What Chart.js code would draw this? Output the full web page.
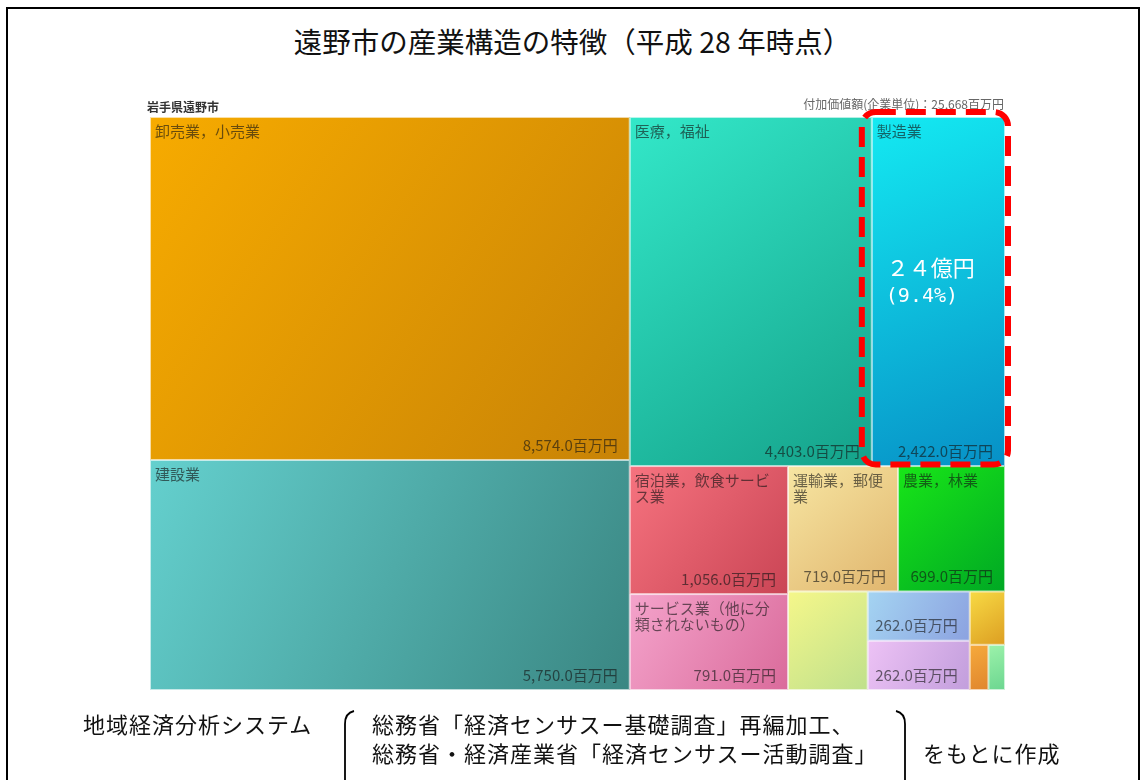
<!DOCTYPE html>
<html lang="ja">
<head>
<meta charset="utf-8">
<title>遠野市の産業構造の特徴</title>
<script src="https://cdn.jsdelivr.net/npm/chart.js@4.4.1/dist/chart.umd.min.js"></script>
<style>
  html, body { margin: 0; padding: 0; background: #fff; }
  body { width: 1145px; height: 780px; position: relative; overflow: hidden;
         font-family: "Noto Sans CJK JP", sans-serif; color: #111; }
  #frame { position: absolute; left: 6px; top: 7px; width: 1134px; height: 820px;
           border: 2px solid #000; box-sizing: border-box; }
  #chart { position: absolute; left: 0; top: 0; }
  h1 { position: absolute; left: 0; top: 22px; width: 1145px; margin: 0; text-align: center;
       font-size: 28.5px; font-weight: normal; line-height: 38px; }
  .note { position: absolute; font-size: 22px; line-height: 29px; white-space: nowrap; letter-spacing: 1px; }
  #brackets { position: absolute; left: 0; top: 0; }
</style>
</head>
<body>
<div id="frame"></div>
<h1>遠野市の産業構造の特徴（平成 28 年時点）</h1>
<canvas id="chart" width="1145" height="780"></canvas>
<svg id="brackets" width="1145" height="780">
  <path d="M354 711 Q345 713 345 724 L345 790" fill="none" stroke="#000" stroke-width="1.8"/>
  <path d="M896 711 Q905 713 905 724 L905 790" fill="none" stroke="#000" stroke-width="1.8"/>
</svg>
<div class="note" style="left:83px; top:709px;">地域経済分析システム</div>
<div class="note" style="left:372px; top:709px;">総務省「経済センサスー基礎調査」再編加工、<br>総務省・経済産業省「経済センサスー活動調査」</div>
<div class="note" style="left:923px; top:738px;">をもとに作成</div>

<script>
// 付加価値額（企業単位, 百万円）
const regionName = '岩手県遠野市';
const totalValue = 25668;
const categories = [
  '卸売業，小売業', '建設業', '医療，福祉', '製造業',
  '宿泊業，飲食サービス業', 'サービス業（他に分類されないもの）',
  '運輸業，郵便業', '農業，林業',
  '生活関連サービス業，娯楽業', '不動産業，物品賃貸業', '学術研究，専門・技術サービス業',
  '教育，学習支援業', '情報通信業', '鉱業，採石業，砂利採取業'
];
const values = [8574, 5750, 4403, 2422, 1056, 791, 719, 699, 409, 262, 262, 98, 44, 39];
const highlight = '製造業';

// colours: light (top-left) -> dark (bottom-right)
const palette = [
  ['#f7ab00', '#c88306'], ['#64d0ce', '#3a8682'], ['#33e8c9', '#15a28a'], ['#14eaf2', '#0790c6'],
  ['#f6737f', '#ca4555'], ['#f4a3cb', '#da6b9b'],
  ['#f7e6a2', '#e0b56e'], ['#18e618', '#00a824'],
  ['#f5f78a', '#bfe08c'], ['#a4d4f2', '#8ca2e0'], ['#edc2f5', '#c29edc'],
  ['#f8da44', '#dc9e22'], ['#f6aa3c', '#e0862e'], ['#9cf2aa', '#6cd690']
];

// squarified layout (golden ratio), rows in data order
function squarify(vals, x0, y0, x1, y1, aspect) {
  const out = [];
  const ratio = (1 + Math.sqrt(5)) / 2;
  let value = vals.reduce((a, b) => a + b, 0);
  let i0 = 0, i1 = 0;
  while (i0 < vals.length) {
    const dx = (x1 - x0) * aspect, dy = y1 - y0;
    let sum = vals[i1++];
    let minV = sum, maxV = sum;
    const alpha = Math.max(dy / dx, dx / dy) / (value * ratio);
    let beta = sum * sum * alpha;
    let minRatio = Math.max(maxV / beta, beta / minV);
    for (; i1 < vals.length; ++i1) {
      const v = vals[i1];
      sum += v;
      if (v < minV) minV = v;
      if (v > maxV) maxV = v;
      beta = sum * sum * alpha;
      const r = Math.max(maxV / beta, beta / minV);
      if (r > minRatio) { sum -= v; break; }
      minRatio = r;
    }
    if (dx < dy) {
      const yb = y0 + (y1 - y0) * sum / value;
      let x = x0;
      for (let i = i0; i < i1; i++) {
        const w = (x1 - x0) * vals[i] / sum;
        out[i] = { x0: x, x1: x + w, y0: y0, y1: yb };
        x += w;
      }
      y0 = yb;
    } else {
      const xb = x0 + (x1 - x0) * sum / value;
      let y = y0;
      for (let i = i0; i < i1; i++) {
        const h = (y1 - y0) * vals[i] / sum;
        out[i] = { x0: x0, x1: xb, y0: y, y1: y + h };
        y += h;
      }
      x0 = xb;
    }
    value -= sum;
    i0 = i1;
  }
  return out;
}

function wrap(ctx, text, maxW) {
  const lines = [];
  let line = '';
  for (const ch of text) {
    if (line && ctx.measureText(line + ch).width > maxW) { lines.push(line); line = ch; }
    else line += ch;
  }
  if (line) lines.push(line);
  return lines;
}

const fullWidth = s => String(s).replace(/[0-9]/g, d => String.fromCharCode(d.charCodeAt(0) + 0xFEE0));
const fmt = v => v.toLocaleString('en-US', { minimumFractionDigits: 1, maximumFractionDigits: 1 }) + '百万円';

const treemapPlugin = {
  id: 'treemap',
  beforeDatasetsDraw(chart) {
    const { ctx, chartArea: a, scales: { x, y } } = chart;
    const cells = squarify(values, x.min, y.min, x.max, y.max, a.width / a.height);
    ctx.save();

    // header row
    ctx.textBaseline = 'middle';
    ctx.fillStyle = '#333';
    ctx.font = 'bold 12px "Noto Sans CJK JP"';
    ctx.textAlign = 'left';
    ctx.fillText(regionName, a.left - 3, a.top - 10);
    ctx.fillStyle = '#666';
    ctx.font = '12px "Noto Sans CJK JP"';
    ctx.textAlign = 'right';
    ctx.fillText('付加価値額(企業単位)：' + totalValue.toLocaleString('en-US') + '百万円', a.right - 1, a.top - 13);

    let hiBox = null;
    cells.forEach((c, i) => {
      const left = x.getPixelForValue(c.x0), right = x.getPixelForValue(c.x1);
      const top = y.getPixelForValue(c.y0), bottom = y.getPixelForValue(c.y1);
      const w = right - left, h = bottom - top;
      const g = ctx.createLinearGradient(left, top, right, bottom);
      g.addColorStop(0, palette[i][0]);
      g.addColorStop(1, palette[i][1]);
      ctx.fillStyle = g;
      ctx.fillRect(left, top, w, h);
      ctx.strokeStyle = 'rgba(255,255,255,0.65)';
      ctx.lineWidth = 1;
      ctx.strokeRect(left + 0.5, top + 0.5, w - 1, h - 1);

      ctx.fillStyle = 'rgba(20,20,20,0.62)';
      ctx.font = '15px "Noto Sans CJK JP"';
      if (w >= 95 && h >= 80) {
        ctx.textAlign = 'left';
        ctx.textBaseline = 'middle';
        wrap(ctx, categories[i], w - 17).forEach((ln, k) => ctx.fillText(ln, left + 5, top + 14 + k * 16));
      }
      if (w >= 95) {
        ctx.textAlign = 'right';
        ctx.textBaseline = 'middle';
        ctx.fillText(fmt(values[i]), right - 12, bottom - 15);
      }
      if (categories[i] === highlight) hiBox = { left, right, top, bottom, v: values[i] };
    });

    if (hiBox) {
      const b = hiBox;
      ctx.strokeStyle = '#ff0000';
      ctx.lineWidth = 6;
      ctx.setLineDash([20, 10]);
      ctx.beginPath();
      ctx.roundRect(b.left - 10, b.top - 5, b.right - b.left + 13, b.bottom - b.top + 3.5, 14);
      ctx.stroke();
      ctx.setLineDash([]);

      const cy = (b.top + b.bottom) / 2;
      ctx.fillStyle = '#ffffff';
      ctx.textAlign = 'left';
      ctx.textBaseline = 'middle';
      ctx.font = '22px "Noto Sans CJK JP"';
      ctx.fillText(fullWidth(Math.round(b.v / 100)) + '億円', b.left + 15, cy - 24);
      ctx.font = '20px "DejaVu Sans Mono"';
      ctx.fillText('(' + (b.v / totalValue * 100).toFixed(1) + '%)', b.left + 14, cy + 5);
    }
    ctx.restore();
  }
};

new Chart(document.getElementById('chart'), {
  type: 'scatter',
  data: { datasets: [] },
  options: {
    responsive: false,
    animation: false,
    layout: { padding: { left: 150, top: 117, right: 140, bottom: 90 } },
    scales: {
      x: { type: 'linear', min: 0, max: 1, display: false },
      y: { type: 'linear', min: 0, max: 1, reverse: true, display: false }
    },
    plugins: { legend: { display: false }, tooltip: { enabled: false } }
  },
  plugins: [treemapPlugin]
});
</script>
</body>
</html>
